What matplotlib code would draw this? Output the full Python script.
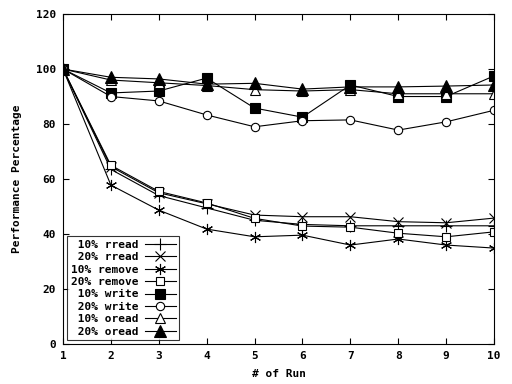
import numpy as np
import matplotlib
matplotlib.use("Agg")
import matplotlib.pyplot as plt

# runs 1..10, performance in percent
runs = np.arange(1, 11)

labels = ["10% rread", "20% rread", "10% remove", "20% remove",
          "10% write", "20% write", "10% oread", "20% oread"]

rread10 = [100, 63.5, 54, 49.5, 45, 43.5, 43, 43, 43, 43]
rread20 = [100, 64.5, 55, 51, 46.9, 46.3, 46.3, 44.5, 44.1, 45.8]
remove10 = [100, 57.8, 48.7, 41.8, 39, 39.6, 36, 38.2, 36, 34.9]
remove20 = [100, 65, 55.5, 51.3, 45.7, 42.9, 42.5, 40.3, 39, 40.8]
write10 = [100, 91.3, 92, 96.7, 85.8, 82.5, 94.2, 90, 90, 97.5]
write20 = [100, 90, 88.4, 83.3, 79, 81.2, 81.5, 77.8, 80.8, 85]
oread10 = [100, 96, 95, 94, 92.5, 92, 92.5, 91, 91, 91]
oread20 = [100, 97, 96.4, 94.5, 94.8, 92.7, 93.5, 93.5, 93.8, 94.2]

series = [rread10, rread20, remove10, remove20, write10, write20, oread10, oread20]
# gnuplot point types 1..9 (skipping filled circle)
markers = ["+", "x", (6, 2, 0), "s", "s", "o", "^", "^"]
filled = [False, False, False, False, True, False, False, True]
sizes = [8, 7, 8, 6, 6.5, 6, 7, 8]

fig = plt.figure(figsize=(5.12, 3.84), dpi=100)
ax = fig.add_axes([0.123, 0.104, 0.842, 0.8595])

font = {"family": "DejaVu Sans Mono", "weight": "bold", "size": 8}

width = max(len(l) for l in labels)
for vals, lab, m, f, ms in zip(series, labels, markers, filled, sizes):
    ax.plot(runs, vals, color="black", lw=0.8, marker=m, markersize=ms,
            markerfacecolor="black" if f else "white", markeredgecolor="black",
            markeredgewidth=0.8, label=lab.rjust(width))

ax.set_xlim(1, 10)
ax.set_ylim(0, 120)
ax.set_xticks(runs)
ax.set_yticks(np.arange(0, 121, 20))
ax.tick_params(direction="in", top=True, right=True, length=4, width=0.8, pad=5)
for t in ax.get_xticklabels() + ax.get_yticklabels():
    t.set_fontproperties(font)
for s in ax.spines.values():
    s.set_linewidth(0.8)

ax.set_xlabel("# of Run", fontdict=font, labelpad=6)
ax.set_ylabel("Performance Percentage", fontdict=font, labelpad=10)

leg = ax.legend(loc="lower left", bbox_to_anchor=(0.01, 0.012), borderaxespad=0,
                markerfirst=False, prop=font, frameon=True, fancybox=False,
                edgecolor="black", handlelength=2.8, handletextpad=0.6,
                labelspacing=0.22, borderpad=0.3)
leg.get_frame().set_linewidth(0.8)

fig.savefig("out.png", dpi=100)
